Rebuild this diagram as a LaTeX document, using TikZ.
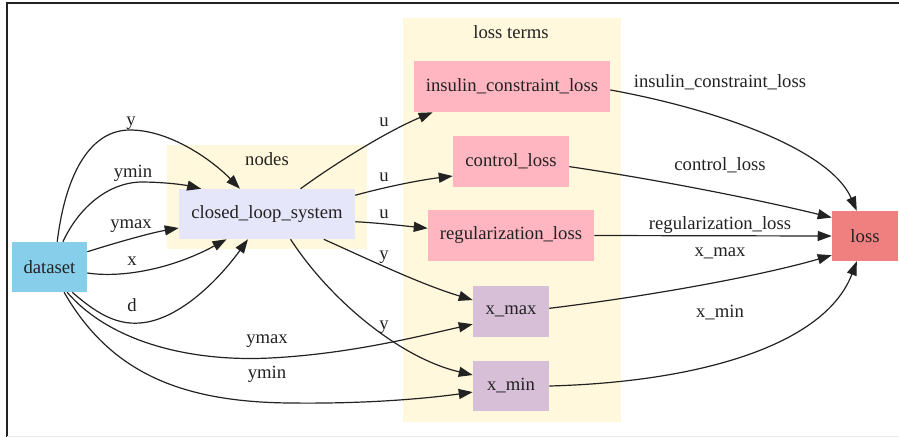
\documentclass[tikz,border=0pt]{standalone}
\usepackage{fontspec}
\setmainfont{Liberation Serif}
\usetikzlibrary{arrows.meta}
\definecolor{clusterbg}{HTML}{FFF8DC}
\definecolor{lavnode}{HTML}{E6E6FA}
\definecolor{pinknode}{HTML}{FFB6C1}
\definecolor{thistlenode}{HTML}{D8BFD8}
\definecolor{lossnode}{HTML}{F08080}
\definecolor{datanode}{HTML}{87CEEB}
\definecolor{ink}{HTML}{222222}
\begin{document}
\begin{tikzpicture}[x=0.75pt,y=-0.75pt,
  box/.style={draw=none, inner sep=0pt, minimum height=38pt, font=\fontsize{14}{16}\selectfont, text=ink},
  lbl/.style={inner sep=0pt, font=\fontsize{14}{16}\selectfont, text=ink, text height=9.5pt, text depth=3pt},
  edge/.style={draw=ink, line width=0.9pt, -{Triangle[length=10.5pt,width=7.5pt]}},
  cluster/.style={fill=clusterbg, draw=none}]
\useasboundingbox (0,0) rectangle (899,437);
% frame
\draw[line width=1.7pt, draw=ink] (7,437) -- (7,3) -- (899,3);
\draw[line width=0.5pt, draw=black!8] (7,436) -- (899,436);
% clusters
\path[cluster] (167,145) rectangle (367,249);
\path[cluster] (403,18) rectangle (621,422);
\node[lbl] (nodeslbl) at (267,161) {nodes};
\node[lbl] (losstermslbl) at (511,34) {loss terms};
% nodes
\node[box, fill=datanode, minimum width=56.25pt, minimum height=37.5pt] (dataset) at (49.5,267) {dataset};
\node[box, fill=lavnode, minimum width=132pt, minimum height=37.5pt] (cls) at (267,214) {closed\_loop\_system};
\node[box, fill=pinknode, minimum width=147pt, minimum height=38.25pt] (ins) at (512,86.5) {insulin\_constraint\_loss};
\node[box, fill=pinknode, minimum width=87pt, minimum height=38.25pt] (ctrl) at (511,161.5) {control\_loss};
\node[box, fill=pinknode, minimum width=124.5pt, minimum height=38.25pt] (reg) at (511,235.5) {regularization\_loss};
\node[box, fill=thistlenode, minimum width=57pt, minimum height=38.25pt] (xmax) at (511,311) {x\_max};
\node[box, fill=thistlenode, minimum width=57pt, minimum height=37.5pt] (xmin) at (511,386) {x\_min};
\node[box, fill=lossnode, minimum width=49.5pt, minimum height=37.5pt] (loss) at (865,236) {loss};
% dataset -> cls
\draw[edge] (dataset.73) .. controls (66,170) and (92,130) .. (130,130) .. controls (170,130) and (212,160) .. (cls.137);
\draw[edge] (dataset.62) .. controls (80,205) and (110,183) .. (140,182) .. controls (165,182) and (185,185) .. (cls.159);
\draw[edge] (dataset.22) .. controls (115,243) and (150,233) .. (cls.189);
\draw[edge] (dataset.351) .. controls (120,278) and (170,270) .. (cls.212);
\draw[edge] (dataset.312) .. controls (95,312) and (115,325) .. (140,323) .. controls (180,320) and (220,278) .. (cls.233);
% dataset -> x_max / x_min
\draw[edge] (dataset.305) .. controls (110,342) and (190,362) .. (270,358) .. controls (350,354) and (420,336) .. (xmax.199);
\draw[edge] (dataset.300) .. controls (110,372) and (180,402) .. (290,403) .. controls (370,404) and (430,398) .. (xmin.189);
% cls -> loss terms
\draw[edge] (cls.37) .. controls (340,160) and (390,130) .. (ins.198);
\draw[edge] (cls.12) .. controls (385,187) and (420,180) .. (ctrl.194);
\draw[edge] (cls.355) .. controls (380,223) and (405,226) .. (reg.175);
\draw[edge] (cls.336) .. controls (370,260) and (420,284) .. (xmax.164);
\draw[edge] (cls.313) .. controls (330,300) and (400,358) .. (xmin.164);
% loss terms -> loss
\draw[edge] (ins.358) .. controls (720,110) and (830,150) .. (loss.108);
\draw[edge] (ctrl.355) .. controls (660,180) and (760,200) .. (loss.151);
\draw[edge] (reg.east) -- (loss.west);
\draw[edge] (xmax.4) .. controls (650,296) and (760,276) .. (loss.210);
\draw[edge] (xmin.east) .. controls (700,382) and (825,345) .. (loss.252);
% edge labels
\node[lbl] (l1) at (131,121) {y};
\node[lbl] (l2) at (133,173) {ymin};
\node[lbl] (l3) at (131,224) {ymax};
\node[lbl] (l4) at (132,261) {x};
\node[lbl] (l5) at (132,307) {d};
\node[lbl] (l6) at (267,339) {ymax};
\node[lbl] (l7) at (267,374) {ymin};
\node[lbl] (l8) at (384,122) {u};
\node[lbl] (l9) at (384,177) {u};
\node[lbl] (l10) at (384,214) {u};
\node[lbl] (l11) at (384,255) {y};
\node[lbl] (l12) at (384,325) {y};
\node[lbl] (l13) at (720,83) {insulin\_constraint\_loss};
\node[lbl] (l14) at (720,166) {control\_loss};
\node[lbl] (l15) at (720,225) {regularization\_loss};
\node[lbl] (l16) at (720,252) {x\_max};
\node[lbl] (l17) at (720,313) {x\_min};
\end{tikzpicture}
\end{document}
